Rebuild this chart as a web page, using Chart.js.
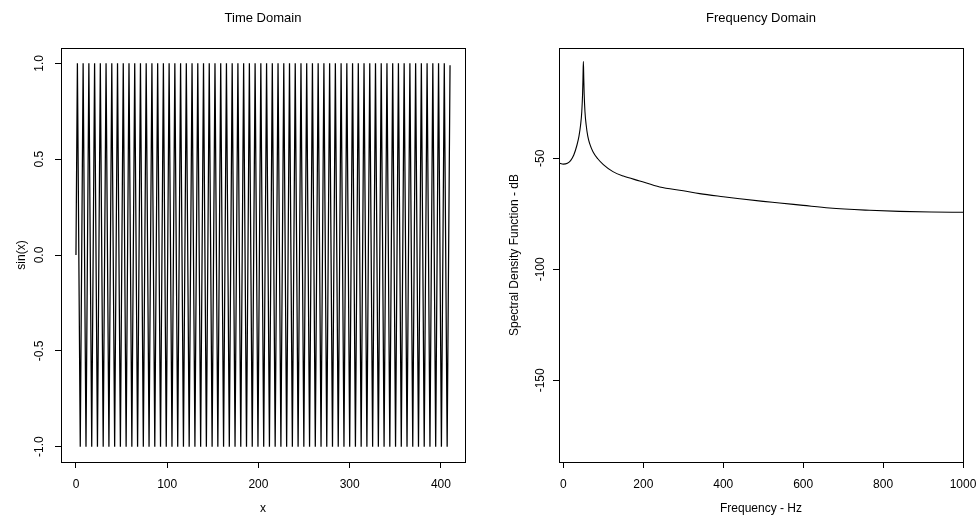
<!DOCTYPE html>
<html>
<head>
<meta charset="utf-8">
<script src="https://cdn.jsdelivr.net/npm/chart.js@4.4.1/dist/chart.umd.min.js"></script>
<style>
  body { margin: 0; background: #fff; }
  .panel { position: absolute; top: 0; width: 489px; height: 518px; }
  canvas { display: block; }
</style>
</head>
<body>
<div class="panel" style="left:0"><canvas id="tiempo" width="489" height="518"></canvas></div>
<div class="panel" style="left:489px"><canvas id="frecuencia" width="489" height="518"></canvas></div>
<script>
// ---- datos: dominio del tiempo (picos y valles de sin(x))
var tiempoX = [0,
  1.57, 4.71, 7.85, 11.00, 14.14, 17.28, 20.42, 23.56, 26.70, 29.85,
  32.99, 36.13, 39.27, 42.41, 45.55, 48.69, 51.84, 54.98, 58.12, 61.26,
  64.40, 67.54, 70.69, 73.83, 76.97, 80.11, 83.25, 86.39, 89.54, 92.68,
  95.82, 98.96, 102.10, 105.24, 108.38, 111.53, 114.67, 117.81, 120.95, 124.09,
  127.23, 130.38, 133.52, 136.66, 139.80, 142.94, 146.08, 149.23, 152.37, 155.51,
  158.65, 161.79, 164.93, 168.07, 171.22, 174.36, 177.50, 180.64, 183.78, 186.92,
  190.07, 193.21, 196.35, 199.49, 202.63, 205.77, 208.92, 212.06, 215.20, 218.34,
  221.48, 224.62, 227.77, 230.91, 234.05, 237.19, 240.33, 243.47, 246.62, 249.76,
  252.90, 256.04, 259.18, 262.32, 265.46, 268.61, 271.75, 274.89, 278.03, 281.17,
  284.31, 287.46, 290.60, 293.74, 296.88, 300.02, 303.16, 306.31, 309.45, 312.59,
  315.73, 318.87, 322.01, 325.16, 328.30, 331.44, 334.58, 337.72, 340.86, 344.00,
  347.15, 350.29, 353.43, 356.57, 359.71, 362.85, 366.00, 369.14, 372.28, 375.42,
  378.56, 381.70, 384.85, 387.99, 391.13, 394.27, 397.41, 400.55, 403.70, 406.84,
  410];
var tiempoY = [0,
  1, -1, 1, -1, 1, -1, 1, -1, 1, -1,
  1, -1, 1, -1, 1, -1, 1, -1, 1, -1,
  1, -1, 1, -1, 1, -1, 1, -1, 1, -1,
  1, -1, 1, -1, 1, -1, 1, -1, 1, -1,
  1, -1, 1, -1, 1, -1, 1, -1, 1, -1,
  1, -1, 1, -1, 1, -1, 1, -1, 1, -1,
  1, -1, 1, -1, 1, -1, 1, -1, 1, -1,
  1, -1, 1, -1, 1, -1, 1, -1, 1, -1,
  1, -1, 1, -1, 1, -1, 1, -1, 1, -1,
  1, -1, 1, -1, 1, -1, 1, -1, 1, -1,
  1, -1, 1, -1, 1, -1, 1, -1, 1, -1,
  1, -1, 1, -1, 1, -1, 1, -1, 1, -1,
  1, -1, 1, -1, 1, -1, 1, -1, 1, -1,
  0.99];
var tiempoXTicks = [0, 100, 200, 300, 400];
var tiempoYTicks = [-1, -0.5, 0, 0.5, 1];
var tiempoYTickLabels = ['-1.0', '-0.5', '0.0', '0.5', '1.0'];

// ---- datos: dominio de la frecuencia
var frecuenciaHz = [-11, 0, 10, 18, 26, 34, 39, 43, 46, 48, 49, 50, 51, 52, 54, 57, 61, 66, 74, 86, 100,
  124, 150, 191, 241, 300, 341, 400, 441, 500, 541, 600, 666, 766, 841, 920, 1000];
var densidadDb = [-52.1, -52.6, -52.2, -51, -48.5, -44, -40, -35, -29, -21, -14, -6.3, -14, -21, -29, -35, -40, -43.5, -47, -50.2, -52.8,
  -56, -58, -60.2, -62.9, -64.6, -65.9, -67.3, -68.2, -69.4, -70.1, -71.2, -72.4, -73.4, -73.9, -74.2, -74.3];
var frecuenciaXTicks = [0, 200, 400, 600, 800, 1000];
var frecuenciaYTicks = [-150, -100, -50];
var frecuenciaYTickLabels = ['-150', '-100', '-50'];

var fuente = '"Liberation Sans", Arial, Helvetica, sans-serif';

// marco estilo R: caja, etiquetas giradas y titulos
var marcoR = {
  id: 'marcoR',
  afterDraw: function (chart) {
    var o = chart.options.plugins.marcoR;
    var ctx = chart.ctx, a = chart.chartArea;
    var sx = chart.scales.x, sy = chart.scales.y;
    ctx.save();
    ctx.strokeStyle = '#000';
    ctx.lineWidth = 1;
    ctx.strokeRect(a.left + 0.5, a.top + 0.5, a.right - a.left, a.bottom - a.top);
    ctx.fillStyle = '#000';
    ctx.textAlign = 'center';
    ctx.textBaseline = 'middle';
    ctx.font = '12px ' + fuente;
    o.xTicks.forEach(function (v) {
      ctx.fillText(String(v), sx.getPixelForValue(v), a.bottom + 23);
    });
    o.yTicks.forEach(function (v, i) {
      ctx.save();
      ctx.translate(a.left - o.yLabOff, sy.getPixelForValue(v));
      ctx.rotate(-Math.PI / 2);
      ctx.fillText(o.yLabels[i], 0, 0);
      ctx.restore();
    });
    ctx.fillText(o.xTitle, (a.left + a.right) / 2, a.bottom + 47);
    ctx.save();
    ctx.translate(a.left - o.yTitleOff, (a.top + a.bottom) / 2);
    ctx.rotate(-Math.PI / 2);
    ctx.fillText(o.yTitle, 0, 0);
    ctx.restore();
    ctx.font = '13px ' + fuente;
    ctx.fillText(o.title, (a.left + a.right) / 2, 18);
    ctx.restore();
  }
};

function ejes(xMin, xMax, yMin, yMax, yAncho, xTicks, yTicks) {
  var comun = {
    type: 'linear',
    grid: { drawOnChartArea: false, drawTicks: true, tickLength: 6, color: '#000', lineWidth: 1 },
    border: { display: false },
    ticks: { display: false }
  };
  return {
    x: Object.assign({}, comun, {
      min: xMin, max: xMax,
      afterBuildTicks: function (s) { s.ticks = xTicks.map(function (v) { return { value: v }; }); },
      afterFit: function (s) { s.height = 56; }
    }),
    y: Object.assign({}, comun, {
      min: yMin, max: yMax,
      afterBuildTicks: function (s) { s.ticks = yTicks.map(function (v) { return { value: v }; }); },
      afterFit: function (s) { s.width = yAncho; }
    })
  };
}

function puntos(xs, ys) {
  return xs.map(function (x, i) { return { x: x, y: ys[i] }; });
}

new Chart(document.getElementById('tiempo').getContext('2d'), {
  type: 'line',
  data: {
    datasets: [{
      data: puntos(tiempoX, tiempoY),
      borderColor: '#000',
      borderWidth: 1.25,
      pointRadius: 0,
      tension: 0,
      fill: false
    }]
  },
  options: {
    responsive: false,
    animation: false,
    layout: { padding: { top: 48, right: 24, left: 0, bottom: 0 } },
    scales: ejes(-16.4, 426.4, -1.08, 1.08, 61, tiempoXTicks, tiempoYTicks),
    plugins: {
      legend: { display: false },
      tooltip: { enabled: false },
      marcoR: {
        title: 'Time Domain', xTitle: 'x', yTitle: 'sin(x)',
        xTicks: tiempoXTicks, yTicks: tiempoYTicks, yLabels: tiempoYTickLabels,
        yLabOff: 21, yTitleOff: 39
      }
    }
  },
  plugins: [marcoR]
});

new Chart(document.getElementById('frecuencia').getContext('2d'), {
  type: 'line',
  data: {
    datasets: [{
      data: puntos(frecuenciaHz, densidadDb),
      borderColor: '#000',
      borderWidth: 1.1,
      pointRadius: 0,
      cubicInterpolationMode: 'monotone',
      fill: false
    }]
  },
  options: {
    responsive: false,
    animation: false,
    layout: { padding: { top: 48, right: 15, left: 0, bottom: 0 } },
    scales: ejes(-11, 1000, -186.8, -0.3, 70, frecuenciaXTicks, frecuenciaYTicks),
    plugins: {
      legend: { display: false },
      tooltip: { enabled: false },
      marcoR: {
        title: 'Frequency Domain', xTitle: 'Frequency - Hz', yTitle: 'Spectral Density Function - dB',
        xTicks: frecuenciaXTicks, yTicks: frecuenciaYTicks, yLabels: frecuenciaYTickLabels,
        yLabOff: 18, yTitleOff: 44
      }
    }
  },
  plugins: [marcoR]
});
</script>
</body>
</html>
